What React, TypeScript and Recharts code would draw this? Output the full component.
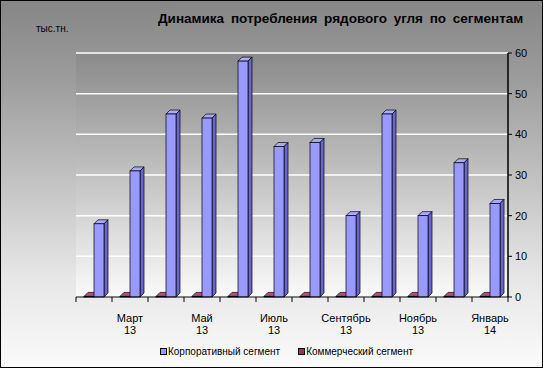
import React from "react";
import { BarChart, Bar, XAxis, YAxis, CartesianGrid, Legend } from "recharts";

const months = [
  "Февраль 13", "Март 13", "Апрель 13", "Май 13", "Июнь 13", "Июль 13",
  "Август 13", "Сентябрь 13", "Октябрь 13", "Ноябрь 13", "Декабрь 13", "Январь 14",
];
const corporate = [18, 31, 45, 44, 58, 37, 38, 20, 45, 20, 33, 23];
const commercial = [0.15, 0.15, 0.15, 0.15, 0.15, 0.15, 0.15, 0.15, 0.15, 0.15, 0.15, 0.15];
const yTicks = [0, 10, 20, 30, 40, 50, 60];

const data = months.map((m, i) => ({
  month: m,
  corp: corporate[i],
  comm: commercial[i],
}));

const FONT = "'Liberation Sans', Arial, sans-serif";
const W = 543;
const H = 368;
const STEP = 36; // category band width in px (plot width / 12)

function Bar3D(props: any) {
  const { x, y, width, height, fill, side, top } = props;
  if (width == null || height == null) return null;
  const d = 4;
  return (
    <g stroke="#000" strokeWidth={0.7}>
      <polygon
        points={`${x},${y} ${x + d},${y - d} ${x + width + d},${y - d} ${x + width},${y}`}
        fill={top}
      />
      <polygon
        points={`${x + width},${y} ${x + width + d},${y - d} ${x + width + d},${y + height - d} ${x + width},${y + height}`}
        fill={side}
      />
      <rect x={x} y={y} width={width} height={height} fill={fill} />
    </g>
  );
}

function MonthTick(props: any) {
  const { x, y, payload, index } = props;
  const [name, yr] = String(payload.value).split(" ");
  const last = index === months.length - 1;
  return (
    <g>
      <line x1={x - STEP / 2} y1={y} x2={x - STEP / 2} y2={y + 5} stroke="#000" />
      {last && <line x1={x + STEP / 2} y1={y} x2={x + STEP / 2} y2={y + 5} stroke="#000" />}
      {index % 2 === 1 && (
        <text x={x} y={y + 25} textAnchor="middle" fontSize={11} fontFamily={FONT} fill="#000">
          <tspan x={x}>{name}</tspan>
          <tspan x={x} dy={12}>{yr}</tspan>
        </text>
      )}
    </g>
  );
}

function LegendBox() {
  const item = (color: string, label: string) => (
    <span style={{ display: "inline-flex", alignItems: "center", margin: "0 9px" }}>
      <span
        style={{
          display: "inline-block", width: 5, height: 5, background: color,
          border: "1px solid #000", marginRight: 1,
        }}
      />
      {label}
    </span>
  );
  return (
    <div style={{ textAlign: "center", fontFamily: FONT, fontSize: 10, color: "#000", paddingLeft: 30 }}>
      {item("#9999ff", "Корпоративный сегмент")}
      {item("#993366", "Коммерческий сегмент")}
    </div>
  );
}

export default function App() {
  return (
    <div
      style={{
        position: "fixed", left: 0, top: 0, width: W, height: H,
        background: "linear-gradient(#868686, #9a9a9a 20%, #e6e6e6 75%, #fbfbfb)",
      }}
    >
      <div
        style={{
          position: "absolute", left: 158, top: 11, fontFamily: FONT,
          fontSize: 13.5, fontWeight: "bold", wordSpacing: 3, color: "#000",
          whiteSpace: "nowrap",
        }}
      >
        Динамика потребления рядового угля по сегментам
      </div>
      <div style={{ position: "absolute", left: 36, top: 23, fontFamily: FONT, fontSize: 10, color: "#000" }}>
        тыс.тн.
      </div>
      <BarChart
        width={W}
        height={H}
        data={data}
        margin={{ top: 53, right: 0, left: 76, bottom: 8 }}
        barSize={10}
        barGap={0}
      >
        <defs>
          <linearGradient id="wall" x1="0" y1="0" x2="0" y2="1">
            <stop offset="0%" stopColor="#8a8a8a" />
            <stop offset="100%" stopColor="#fafafa" />
          </linearGradient>
        </defs>
        <CartesianGrid
          yAxisId="right"
          vertical={false}
          stroke="#ffffff"
          strokeWidth={1.5}
          fill="url(#wall)"
          fillOpacity={1}
        />
        <XAxis
          dataKey="month"
          interval={0}
          tickLine={false}
          tickSize={0}
          tickMargin={0}
          height={49}
          axisLine={{ stroke: "#000" }}
          tick={<MonthTick />}
        />
        <YAxis
          yAxisId="left"
          orientation="left"
          width={0}
          domain={[0, 60]}
          ticks={yTicks}
          tick={false}
          tickSize={4}
          axisLine={{ stroke: "#000", strokeWidth: 1.5 }}
          tickLine={{ stroke: "#000" }}
        />
        <YAxis
          yAxisId="right"
          orientation="right"
          width={35}
          domain={[0, 60]}
          ticks={yTicks}
          tickSize={4}
          tickMargin={3}
          axisLine={{ stroke: "#000", strokeWidth: 1.5 }}
          tickLine={{ stroke: "#000" }}
          tick={{ fontSize: 11, fontFamily: FONT, fill: "#000", textAnchor: "start" }}
        />
        <Legend
          verticalAlign="bottom"
          height={14}
          content={<LegendBox />}
          wrapperStyle={{ left: 0, width: W }}
        />
        <Bar
          yAxisId="right"
          dataKey="comm"
          name="Коммерческий сегмент"
          fill="#993366"
          isAnimationActive={false}
          shape={<Bar3D side="#661a44" top="#b04d80" />}
        />
        <Bar
          yAxisId="right"
          dataKey="corp"
          name="Корпоративный сегмент"
          fill="#9999ff"
          isAnimationActive={false}
          shape={<Bar3D side="#6666cc" top="#aaaaff" />}
        />
      </BarChart>
      <div
        style={{
          position: "absolute", left: 0, top: 0, width: W, height: H,
          boxSizing: "border-box", border: "1px solid #000", pointerEvents: "none",
        }}
      />
    </div>
  );
}
